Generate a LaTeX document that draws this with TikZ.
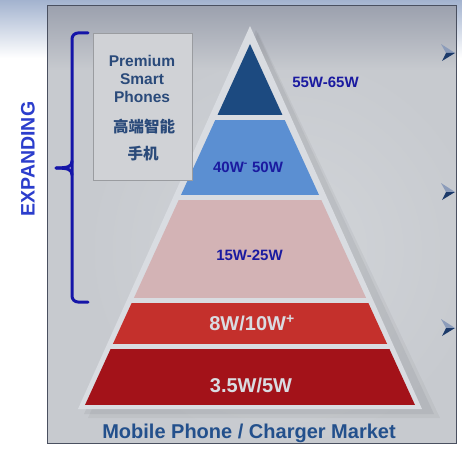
\documentclass[tikz,border=0pt]{standalone}
\usepackage{fontspec}
\setmainfont{Liberation Sans}
\newfontfamily\cjk{Noto Sans CJK SC}
\usetikzlibrary{calc}
\definecolor{pnl}{HTML}{C7CACF}
\definecolor{pnlhi}{HTML}{D2D5D9}
\definecolor{pnltop}{HTML}{9CA1AE}
\definecolor{pnlborder}{HTML}{4A5060}
\definecolor{skyblue}{HTML}{A3B3CF}
\definecolor{gapcol}{HTML}{D9DCE1}
\definecolor{layA}{HTML}{1C4A80}
\definecolor{layB}{HTML}{5B8FD2}
\definecolor{layC}{HTML}{D3B3B5}
\definecolor{layD}{HTML}{C4302C}
\definecolor{layE}{HTML}{A31219}
\definecolor{lbltxt}{HTML}{1A1AA0}
\definecolor{mkttxt}{HTML}{23508C}
\definecolor{boxtxt}{HTML}{2A4A7A}
\definecolor{exptxt}{HTML}{2B3DCC}
\definecolor{bracecol}{HTML}{1515A8}
\definecolor{boxfill}{HTML}{D0D2D6}
\definecolor{boxline}{HTML}{9A9CA0}
\definecolor{bulletdark}{HTML}{1C3A6A}
\definecolor{bulletlight}{HTML}{8C9CBA}
\tikzset{
  bluelbl/.style={text=lbltxt, font=\fontsize{15}{17}\selectfont\bfseries, inner sep=0pt},
  whitelbl/.style={text=gapcol, font=\fontsize{20}{22}\selectfont\bfseries, inner sep=0pt},
  boxlbl/.style={text=boxtxt, font=\fontsize{15.5}{17}\selectfont\bfseries, inner sep=0pt},
  cjklbl/.style={text=boxtxt, font=\fontsize{15.5}{17}\selectfont\cjk\bfseries, inner sep=0pt},
  bracestyle/.style={draw=bracecol, line width=3pt, line cap=round, line join=round},
}
\begin{document}
\begin{tikzpicture}[x=1pt,y=-1pt]
\useasboundingbox (0,0) rectangle (462,449);
% outside background
\fill[white] (0,0) rectangle (462,449);
\shade[top color=skyblue, bottom color=white] (0,0) rectangle (462,58);
% panel
\begin{scope}
\clip (47,6) rectangle (456,443);
\fill[pnl] (47,6) rectangle (456,443);
\shade[inner color=pnlhi, outer color=pnl] (285,250) circle (200);
\shade[top color=pnltop, bottom color=pnl, opacity=1] (47,6) rectangle (456,70);
\end{scope}
\draw[pnlborder, line width=1pt] (47,6) rectangle (456,443);
% pyramid shadow
\fill[black, opacity=0.05] (256,30) -- (434,414) -- (84,414) -- cycle;
\fill[black, opacity=0.04] (258,32) -- (440,418) -- (88,418) -- cycle;
% outer light triangle
\fill[gapcol] (250,26) -- (422,409) -- (78,409) -- cycle;
% layers
\begin{scope}
\clip (250,44) -- (415,405) -- (85,405) -- cycle;
\fill[layA] (0,40) rectangle (462,115);
\fill[layB] (0,120) rectangle (462,195);
\fill[layC] (0,200) rectangle (462,298);
\fill[layD] (0,303) rectangle (462,344);
\fill[layE] (0,349) rectangle (462,405);
\end{scope}
% labels
\node[bluelbl] (l1) at (325.5,82) {55W-65W};
\node[bluelbl] (l2) at (248,167) {40W\textsuperscript{-} 50W};
\node[bluelbl] (l3) at (249.5,255) {15W-25W};
\node[whitelbl] (l4) at (252,323) {8W/10W\textsuperscript{+}};
\node[whitelbl] (l5) at (251,385) {3.5W/5W};
\node[text=mkttxt, font=\fontsize{20}{22}\selectfont\bfseries, inner sep=0pt] (mkt) at (249,433) {Mobile Phone / Charger Market};
% box
\node[draw=boxline, fill=boxfill, line width=0.8pt, minimum width=99pt, minimum height=147pt, inner sep=0pt] (box) at (142.5,106.5) {};
\node[boxlbl] (t1) at (142,61) {Premium};
\node[boxlbl] (t2) at (142,79) {Smart};
\node[boxlbl] (t3) at (142,97) {Phones};
\node[cjklbl] (t4) at (144,127) {高端智能};
\node[cjklbl] (t5) at (143,154) {手机};
% EXPANDING
\node[text=exptxt, font=\fontsize{19.5}{22}\selectfont\bfseries, rotate=90, inner sep=0pt] (exp) at (28,159) {EXPANDING};
% brace
\draw[bracestyle, rounded corners=6pt] (88,33) -- (72,33) -- (72,302) -- (88,302);
\draw[bracestyle] (72,161) .. controls (72,166) and (69,168) .. (56,168);
\draw[bracestyle] (72,175) .. controls (72,170) and (69,168) .. (56,168);
% bullets
\foreach \yy in {53,192,328} {
  \fill[bulletlight] (455,\yy) -- (441,\yy-9) -- (446,\yy) -- cycle;
  \fill[bulletdark] (455,\yy) -- (446,\yy) -- (442,\yy+8) -- cycle;
}
\end{tikzpicture}
\end{document}
